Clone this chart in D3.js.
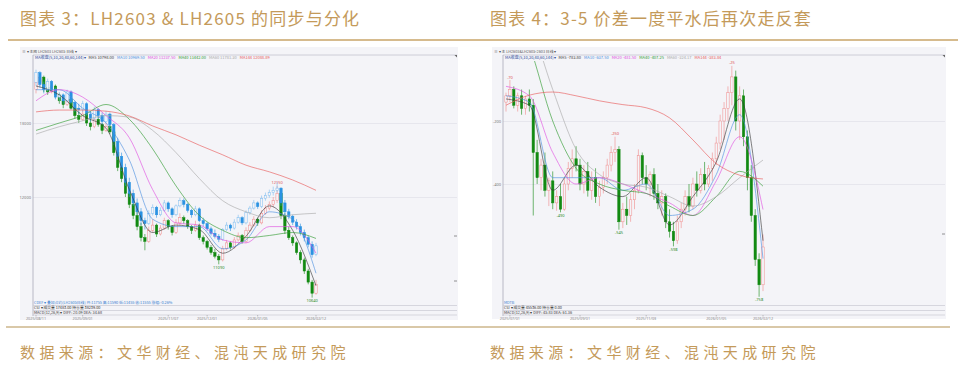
<!DOCTYPE html>
<html>
<head>
<meta charset="utf-8">
<script src="https://cdn.jsdelivr.net/npm/d3@7"></script>
<style>
body { margin: 0; background: #fff; }
svg { display: block; font-family: "Noto Sans CJK SC", "Noto Sans", sans-serif; }
</style>
</head>
<body>
<script>
// ---- chart 3 : LH2603 (red/green) with LH2605 overlay (blue), [open, high, low, close]
var lh2603 = [
  [13450,13650,13400,13550],[13550,13680,13500,13620],[13620,13640,13420,13480],[13480,13520,13380,13420],
  [13420,13560,13400,13500],[13500,13520,13350,13380],[13380,13400,13260,13300],[13300,13340,13200,13250],
  [13250,13380,13230,13320],[13320,13340,13180,13200],[13200,13220,13060,13100],[13100,13150,13000,13050],
  [13050,13180,13030,13120],[13120,13130,12960,13000],[13000,13050,12900,12950],[12950,13100,12930,13050],
  [13050,13080,12950,12980],[12980,13000,12850,12900],[12900,13000,12880,12950],[12950,12980,12850,12880],
  [12880,12900,12560,12600],[12600,12650,12350,12400],[12400,12480,12200,12250],[12250,12300,12000,12050],
  [12050,12120,11850,11900],[11900,11950,11700,11750],[11750,11800,11550,11600],[11600,11650,11400,11450],
  [11450,11500,11280,11400],[11400,11600,11380,11550],[11550,11700,11520,11620],[11620,11640,11460,11500],
  [11500,11620,11480,11580],[11580,11720,11560,11680],[11680,11700,11560,11600],[11600,11620,11480,11520],
  [11520,11700,11500,11650],[11650,11780,11620,11720],[11720,11750,11640,11680],[11680,11700,11570,11600],
  [11600,11620,11500,11550],[11550,11680,11530,11620],[11620,11640,11420,11450],[11450,11480,11360,11400],
  [11400,11420,11290,11320],[11320,11350,11220,11250],[11250,11300,11170,11200],[11200,11230,11090,11150],
  [11150,11340,11130,11300],[11300,11420,11280,11380],[11380,11400,11290,11320],[11320,11460,11300,11420],
  [11420,11520,11400,11480],[11480,11500,11370,11400],[11400,11590,11380,11550],[11550,11660,11530,11620],
  [11620,11740,11600,11700],[11700,11720,11610,11650],[11650,11820,11630,11780],[11780,11890,11760,11850],
  [11850,11940,11820,11900],[11900,12000,11860,11950],[11950,12150,11920,12050],[12050,12060,11700,11750],
  [11750,11780,11500,11550],[11550,11600,11420,11450],[11450,11480,11340,11380],[11380,11400,11220,11250],
  [11250,11280,11100,11150],[11150,11180,10960,11000],[11000,11030,10820,10850],[10850,10880,10640,10700],
  [10700,10880,10680,10820]
];
var lh2605 = [
  [13550,13720,13500,13680],[13680,13700,13480,13520],[13520,13560,13400,13450],[13450,13600,13430,13560],
  [13560,13580,13420,13450],[13450,13480,13320,13350],[13350,13420,13300,13380],[13380,13400,13260,13300],
  [13300,13450,13280,13420],[13420,13440,13250,13280],[13280,13300,13150,13200],[13200,13260,13120,13180],
  [13180,13300,13150,13260],[13260,13280,13100,13120],[13120,13160,13020,13060],[13060,13220,13040,13180],
  [13180,13200,13060,13100],[13100,13140,12980,13020],[13020,13160,13000,13120],[13120,13140,12950,12980],
  [12980,13000,12700,12750],[12750,12800,12500,12550],[12550,12600,12350,12400],[12400,12450,12150,12200],
  [12200,12260,12000,12050],[12050,12100,11880,11920],[11920,11980,11760,11800],[11800,11850,11620,11680],
  [11680,11720,11560,11640],[11640,11820,11620,11780],[11780,11900,11750,11860],[11860,11880,11720,11760],
  [11760,11860,11740,11820],[11820,11960,11800,11920],[11920,11940,11800,11840],[11840,11860,11720,11760],
  [11760,11900,11740,11880],[11880,11990,11860,11950],[11950,11980,11860,11900],[11900,11920,11790,11820],
  [11820,11840,11720,11760],[11760,11880,11740,11840],[11840,11860,11660,11680],[11680,11720,11600,11640],
  [11640,11660,11540,11570],[11570,11600,11480,11510],[11510,11560,11440,11470],[11470,11500,11390,11430],
  [11430,11580,11410,11560],[11560,11660,11540,11620],[11620,11640,11540,11580],[11580,11700,11560,11660],
  [11660,11760,11640,11720],[11720,11740,11620,11650],[11650,11820,11630,11790],[11790,11880,11760,11850],
  [11850,11960,11830,11920],[11920,11940,11840,11870],[11870,12020,11850,11980],[11980,12060,11950,12020],
  [12020,12100,11990,12060],[12060,12140,12020,12090],[12090,12200,12060,12120],[12120,12130,11880,11920],
  [11920,11960,11760,11800],[11800,11840,11700,11740],[11740,11760,11620,11660],[11660,11700,11560,11600],
  [11600,11640,11480,11520],[11520,11560,11400,11450],[11450,11480,11320,11360],[11360,11400,11180,11220],
  [11220,11380,11200,11340]
];
var maIdxL = [0, 6, 12, 18, 24, 30, 36, 42, 48, 54, 60, 66, 72];
var ma5L   = [13500, 13380, 13100, 12930, 12100, 11520, 11620, 11560, 11240, 11470, 11880, 11550, 10800];
var ma10L  = [13450, 13450, 13200, 13000, 12500, 11700, 11600, 11600, 11300, 11420, 11800, 11700, 10970];
var ma20L  = [13300, 13450, 13350, 13100, 12800, 12100, 11650, 11620, 11420, 11380, 11600, 11600, 11240];
var ma40L  = [12900, 13000, 13100, 13250, 13050, 12650, 12150, 11750, 11550, 11450, 11480, 11520, 11440];
var ma60L  = [12850, 12950, 13030, 13100, 13080, 12900, 12600, 12250, 11950, 11800, 11720, 11760, 11780];
var ma144L = [13150, 13175, 13175, 13160, 13095, 12960, 12840, 12700, 12570, 12430, 12340, 12230, 12090];
var maLastL = ['10798.00', '10969.50', '11237.50', '11442.00', '11781.30', '12088.89'];
var yTicksL = [13000, 12000];
var datesL = ['2025/08/11', '2025/09/01', '2025/11/07', '2025/12/01', '2026/01/05', '2026/02/12'];
var dateIdxL = [0, 12, 34, 44, 57, 72];
var marksL = [[62, 'h'], [47, 'l'], [71, 'l']];

// ---- chart 4 : LH2603-LH2605 spread, [open, high, low, close]
var spread = [
  [-140,-110,-170,-120],[-120,-70,-140,-100],[-100,-90,-160,-150],[-150,-110,-170,-120],
  [-120,-100,-180,-160],[-160,-120,-180,-130],[-130,-100,-170,-150],[-150,-130,-500,-300],
  [-300,-260,-400,-380],[-380,-320,-420,-340],[-340,-300,-440,-420],[-420,-380,-470,-390],
  [-390,-360,-480,-460],[-460,-420,-485,-440],[-440,-400,-490,-480],[-480,-380,-485,-400],
  [-400,-330,-420,-350],[-350,-290,-380,-320],[-320,-280,-360,-340],[-340,-320,-420,-400],
  [-400,-340,-430,-360],[-360,-330,-440,-420],[-420,-360,-450,-380],[-380,-350,-460,-440],
  [-440,-390,-470,-410],[-410,-360,-430,-380],[-380,-320,-400,-340],[-340,-280,-360,-300],
  [-300,-250,-330,-290],[-290,-280,-545,-520],[-520,-460,-540,-480],[-480,-440,-530,-500],
  [-500,-430,-520,-450],[-450,-400,-480,-420],[-420,-290,-430,-310],[-310,-300,-400,-380],
  [-380,-340,-420,-400],[-400,-360,-440,-370],[-370,-350,-450,-430],[-430,-400,-480,-460],
  [-460,-420,-500,-440],[-440,-430,-540,-520],[-520,-480,-570,-550],[-550,-520,-598,-580],
  [-580,-500,-590,-520],[-520,-460,-540,-480],[-480,-420,-500,-440],[-440,-400,-490,-470],
  [-470,-380,-480,-400],[-400,-360,-440,-420],[-420,-350,-430,-370],[-370,-330,-420,-400],
  [-400,-340,-410,-350],[-350,-300,-390,-320],[-320,-250,-340,-270],[-270,-180,-290,-200],
  [-200,-140,-260,-160],[-160,-90,-200,-110],[-110,-25,-150,-60],[-60,-40,-230,-200],
  [-200,-90,-260,-120],[-120,-100,-280,-250],[-250,-230,-420,-380],[-380,-340,-520,-500],
  [-500,-480,-660,-640],[-640,-620,-758,-720],[-720,-560,-740,-600]
];
var maIdxR = [0, 6, 12, 18, 24, 30, 36, 42, 48, 54, 60, 66];
var ma5R   = [-130, -150, -420, -340, -410, -440, -380, -530, -440, -330, -130, -580];
var ma10R  = [-120, -140, -380, -380, -380, -420, -400, -500, -480, -370, -180, -637];
var ma20R  = [-90, -120, -300, -400, -380, -400, -430, -460, -500, -390, -250, -481];
var ma40R  = [200, 40, -200, -350, -400, -420, -430, -470, -500, -440, -360, -407];
var ma60R  = [260, 120, -100, -290, -370, -400, -410, -440, -470, -440, -380, -324];
var ma144R = [-150, -118, -108, -120, -136, -148, -158, -190, -260, -335, -372, -384];
var maLastR = ['-783.80', '-637.50', '-481.50', '-407.25', '-324.17', '-383.84'];
var yTicksR = [-200, -400];
var datesR = ['2025/07/01', '2025/09/01', '2025/11/03', '2026/01/05', '2026/02/12'];
var dateIdxR = [1, 19, 36, 54, 66];
var marksR = [[1, 'h'], [14, 'l'], [28, 'h'], [29, 'l'], [43, 'l'], [58, 'h'], [65, 'l']];

var maNames = ['MA5', 'MA10', 'MA20', 'MA40', 'MA60', 'MA144'];
var maColors = ['#3a3a3a', '#4b8fe0', '#e04ee0', '#2f9a2f', '#a9a9a9', '#e85a5a'];
var gold = '#c49a5a';
var panelFill = '#f4f4f8';

var svg = d3.select('body').append('svg').attr('width', 966).attr('height', 367);

// titles, rules, sources
svg.append('text').attr('x', 20).attr('y', 24.5).attr('font-size', 17).attr('letter-spacing', 1.2)
  .attr('fill', gold).text('图表 3：LH2603 & LH2605 的同步与分化');
svg.append('text').attr('x', 490).attr('y', 24.5).attr('font-size', 17).attr('letter-spacing', 1.2)
  .attr('fill', gold).text('图表 4：3-5 价差一度平水后再次走反套');
svg.append('line').attr('x1', 8).attr('x2', 958).attr('y1', 40).attr('y2', 40)
  .attr('stroke', '#c9a468').attr('stroke-width', 1.5);
svg.append('line').attr('x1', 6).attr('x2', 950).attr('y1', 327).attr('y2', 327)
  .attr('stroke', '#d9c8a8').attr('stroke-width', 2);
[20, 490].forEach(function(sx) {
  svg.append('text').attr('x', sx).attr('y', 358).attr('font-size', 15).attr('letter-spacing', 4.4)
    .attr('fill', gold).text('数据来源：文华财经、混沌天成研究院');
});

var drawChart = function(c) {
  var g = svg.append('g');
  var left = c.plot[0], right = c.plot[1], top = 55, bottom = 302;
  g.append('rect').attr('x', c.box[0]).attr('y', c.box[1]).attr('width', c.box[2]).attr('height', c.box[3])
    .attr('fill', panelFill);

  var x = d3.scaleLinear().domain([0, c.candles.length - 1]).range(c.xRange);
  var y = d3.scaleLinear().domain(c.yDomain).range(c.yRange);

  // toolbar + top rule
  g.append('text').attr('x', c.box[0] + 2).attr('y', 52.5).attr('font-size', 3.8).attr('fill', '#555')
    .text(c.toolbar);
  g.append('line').attr('x1', left).attr('x2', right).attr('y1', top).attr('y2', top)
    .attr('stroke', '#c4c4ce').attr('stroke-width', 0.8);
  g.append('path').attr('d', 'M' + (right - 2.5) + ',' + top + 'h2.5v2.5z').attr('fill', '#666');

  // grid + y labels
  var axis = d3.axisLeft(y).tickValues(c.yTicks).tickSize(-(right - left)).tickPadding(2)
    .tickFormat(function(d) { return String(d); });
  var ag = g.append('g').attr('transform', 'translate(' + left + ',0)').call(axis);
  ag.select('.domain').remove();
  ag.selectAll('line').attr('stroke', '#e2e2ea').attr('stroke-width', 0.8);
  ag.selectAll('text').attr('font-size', 4).attr('fill', '#777').attr('font-family', 'Noto Sans');

  g.append('line').attr('x1', left).attr('x2', left).attr('y1', top).attr('y2', 316)
    .attr('stroke', '#a9a9b8').attr('stroke-width', 0.8);
  c.rightTicks.forEach(function(ty) {
    g.append('line').attr('x1', right - 3).attr('x2', right).attr('y1', ty).attr('y2', ty)
      .attr('stroke', '#777').attr('stroke-width', 0.8);
  });

  // legend
  var lg = g.append('text').attr('x', left + 2).attr('y', 58.5).attr('font-size', 4);
  lg.append('tspan').attr('fill', '#2c4a9a').text('MA收盘(5,10,20,40,60,144)▾');
  maNames.forEach(function(n, k) {
    lg.append('tspan').attr('dx', 3).attr('fill', maColors[k]).text(n + ' ' + c.maLast[k]);
  });

  // plot
  g.append('clipPath').attr('id', c.id).append('rect')
    .attr('x', left + 0.5).attr('y', top + 6).attr('width', right - left).attr('height', bottom - top - 6);
  var pg = g.append('g').attr('clip-path', 'url(#' + c.id + ')');
  var bw = c.bw;

  var drawCandles = function(data, upCol, downCol) {
    var cs = pg.append('g').selectAll('g').data(data).enter().append('g');
    var col = function(d) { return d[3] >= d[0] ? upCol : downCol; };
    cs.append('line')
      .attr('x1', function(d, i) { return x(i); }).attr('x2', function(d, i) { return x(i); })
      .attr('y1', function(d) { return y(d[1]); }).attr('y2', function(d) { return y(d[2]); })
      .attr('stroke', col).attr('stroke-width', 0.6);
    cs.append('rect')
      .attr('x', function(d, i) { return x(i) - bw / 2; })
      .attr('y', function(d) { return y(Math.max(d[0], d[3])); })
      .attr('width', bw)
      .attr('height', function(d) { return Math.max(0.8, Math.abs(y(d[0]) - y(d[3]))); })
      .attr('fill', function(d) { return d[3] >= d[0] ? panelFill : downCol; })
      .attr('stroke', col).attr('stroke-width', 0.5);
  };
  drawCandles(c.candles, '#f08a8a', '#128a12');
  if (c.overlay) drawCandles(c.overlay, '#7cbcf0', '#2a92e2');

  c.mas.forEach(function(m, k) {
    var line = d3.line()
      .x(function(v, j) { return x(c.maIdx[j]); })
      .y(function(v) { return y(v); })
      .curve(d3.curveMonotoneX);
    pg.append('path').datum(m).attr('d', line).attr('fill', 'none')
      .attr('stroke', maColors[k]).attr('stroke-width', 0.7).attr('opacity', 0.9);
  });

  // high / low marks
  c.marks.forEach(function(mk) {
    var d = c.candles[mk[0]];
    var hi = mk[1] === 'h';
    var v = hi ? d[1] : d[2];
    g.append('text').attr('x', x(mk[0])).attr('y', hi ? y(v) - 1.5 : y(v) + 4.5)
      .attr('text-anchor', 'middle').attr('font-size', 4).attr('font-family', 'Noto Sans')
      .attr('fill', hi ? '#e05050' : '#2a8a2a').text(v);
  });

  // bottom info rows
  g.append('text').attr('x', left + 1).attr('y', 304).attr('font-size', 3.8).attr('fill', '#3a7fd0').text(c.info[0]);
  [305.5, 310.5, 315].forEach(function(ly) {
    g.append('line').attr('x1', left).attr('x2', right).attr('y1', ly).attr('y2', ly)
      .attr('stroke', '#c9c9d3').attr('stroke-width', 0.7);
  });
  g.append('text').attr('x', left + 1).attr('y', 309.3).attr('font-size', 3.8).attr('fill', '#333').text(c.info[1]);
  g.append('text').attr('x', left + 1).attr('y', 313.8).attr('font-size', 3.8).attr('fill', '#333').text(c.info[2]);

  // dates
  c.dates.forEach(function(t, k) {
    var dx = x(c.dateIdx[k]);
    g.append('line').attr('x1', dx).attr('x2', dx).attr('y1', 315).attr('y2', 316.5)
      .attr('stroke', '#888').attr('stroke-width', 0.5);
    g.append('text').attr('x', dx).attr('y', 319.5).attr('text-anchor', 'middle')
      .attr('font-size', 3.8).attr('fill', '#888').attr('font-family', 'Noto Sans').text(t);
  });
};

drawChart({
  id: 'clipL', box: [20, 47, 438, 273], plot: [33, 457], xRange: [36, 316], bw: 2.4,
  yDomain: [13000, 12000], yRange: [123, 197], yTicks: yTicksL, rightTicks: [236, 281],
  candles: lh2603, overlay: lh2605,
  maIdx: maIdxL, mas: [ma5L, ma10L, ma20L, ma40L, ma60L, ma144L], maLast: maLastL,
  marks: marksL, dates: datesL, dateIdx: dateIdxL,
  toolbar: '≡ ▾  主图  LH2603  LH2605  日线 ▾',
  info: ['CDEF ▾  叠加合约(LH2605日线)   开:11755  高:11590  低:11455  收:11555  涨幅:-0.26%',
         'CSI ▾  成交量 17483.00  持仓量 38239.00',
         'MACD(12,26,9) ▾  DIFF: 20.09  DEA: 34.68']
});

drawChart({
  id: 'clipR', box: [492, 47, 454, 272], plot: [503, 945], xRange: [506, 763], bw: 2.4,
  yDomain: [-200, -400], yRange: [121, 184], yTicks: yTicksR, rightTicks: [234],
  candles: spread, overlay: null,
  maIdx: maIdxR, mas: [ma5R, ma10R, ma20R, ma40R, ma60R, ma144R], maLast: maLastR,
  marks: marksR, dates: datesR, dateIdx: dateIdxR,
  toolbar: '≡ ▾  主  LH2603&LH2605-2603  日线 ▾',
  info: ['MDTB',
         'CSI ▾  成交量 45536.00  持仓量 0.00',
         'MACD(12,26,9) ▾  DIFF: 45.83  DEA: 61.36']
});
</script>
</body>
</html>
